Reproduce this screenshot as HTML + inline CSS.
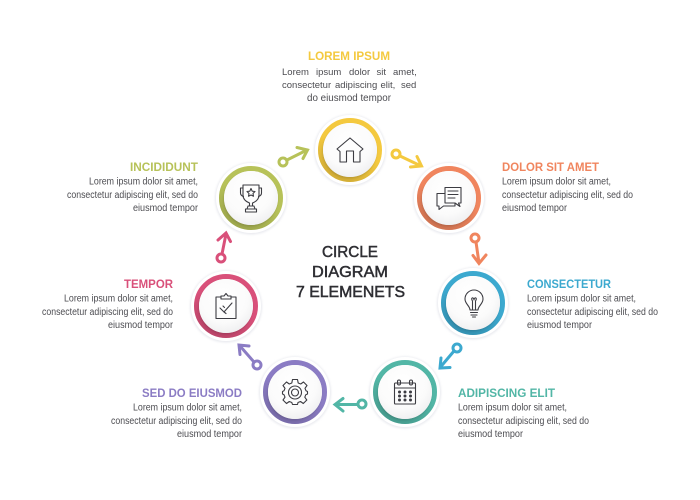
<!DOCTYPE html>
<html><head><meta charset="utf-8"><style>
html,body{margin:0;padding:0;background:#fff}
svg{display:block}
.t{font:bold 11.500px "Liberation Sans",sans-serif}
.b{font:10px "Liberation Sans",sans-serif;fill:#4c4c51}
.w{font-size:9.500px}
.c{font:15.500px "Liberation Sans",sans-serif;fill:#2e2e33;stroke:#2e2e33;stroke-width:.5}
.i{fill:none;stroke:#3c3c42;stroke-width:1.100;stroke-linejoin:round;stroke-linecap:round}
.a{fill:none;stroke-width:3;stroke-linecap:round;stroke-linejoin:miter}
</style></head><body>
<svg width="700" height="500" viewBox="0 0 700 500" xmlns="http://www.w3.org/2000/svg">
<defs>
<radialGradient id="d" cx=".45" cy=".35" r=".75"><stop offset="0" stop-color="#fff"/><stop offset=".6" stop-color="#fbfbfb"/><stop offset="1" stop-color="#ebebed"/></radialGradient>
<linearGradient id="sh" x1=".7" y1=".1" x2=".3" y2=".95"><stop offset=".45" stop-color="#000" stop-opacity="0"/><stop offset="1" stop-color="#000" stop-opacity=".13"/></linearGradient>
<filter id="s" x="-30%" y="-30%" width="160%" height="160%"><feGaussianBlur stdDeviation="1"/></filter>
<g id="n">
<circle r="36" cy=".5" fill="#e9eaef" filter="url(#s)"/>
<circle r="35" fill="#fff"/>
</g>
<g id="in">
<circle r="29.500" fill="none" stroke="url(#sh)" stroke-width="5"/>
<circle r="27" cx="-.5" cy="1.500" fill="#000" opacity=".14" filter="url(#s)"/>
<circle r="27" fill="url(#d)"/>
</g>
</defs>
<rect width="700" height="500" fill="#fff"/>

<!-- nodes -->
<g transform="translate(350,150)"><use href="#n"/><circle r="29.500" fill="none" stroke="#f4c93f" stroke-width="5"/><use href="#in"/>
<path class="i" d="M-13-1L0-12L13-1L10 1.500V12H3.500V1H-3.500V12H-10V1.500Z"/></g>
<g transform="translate(449,198)"><use href="#n"/><circle r="29.500" fill="none" stroke="#f0855e" stroke-width="5"/><use href="#in"/>
<path class="i" d="M-4-10.500H12V5H9.500L11 8.500L6 5H-4Z"/><path class="i" d="M-4-4.500H-12V8H-10V11.500L-5.500 8H6V5"/><path class="i" d="M-1-7H9M-1-3.500H9M-1 0H6"/></g>
<g transform="translate(473,303)"><use href="#n"/><circle r="29.500" fill="none" stroke="#3ca9cf" stroke-width="5"/><use href="#in"/>
<path class="i" d="M-3 7C-3 3-8 1-8-4A9 9 0 0 1 10-4C10 1 5 3 5 7Z"/><path class="i" d="M-2.500 9.500H4.500M-2 12H4M-.5 14H2.500M-.500 7V-2C-3-6 1-6 1-3C1-6 5-6 2.500-2V7"/></g>
<g transform="translate(405,392)"><use href="#n"/><circle r="29.500" fill="none" stroke="#52b6a6" stroke-width="5"/><use href="#in"/>
<rect class="i" x="-10.500" y="-9" width="21" height="21" rx="1"/><path class="i" d="M-10.500-4H10.500"/><rect class="i" x="-7.500" y="-12" width="3" height="5" rx="1.500" fill="#fff"/><rect class="i" x="4.500" y="-12" width="3" height="5" rx="1.500" fill="#fff"/>
<g fill="#3c3c42"><circle cx="-5.500" cy="0" r="1.500"/><circle cx="0" cy="0" r="1.500"/><circle cx="5.500" cy="0" r="1.500"/><circle cx="-5.500" cy="4" r="1.500"/><circle cx="0" cy="4" r="1.500"/><circle cx="5.500" cy="4" r="1.500"/><circle cx="-5.500" cy="8" r="1.500"/><circle cx="0" cy="8" r="1.500"/><circle cx="5.500" cy="8" r="1.500"/></g></g>
<g transform="translate(295,392)"><use href="#n"/><circle r="29.500" fill="none" stroke="#8b7cc4" stroke-width="5"/><use href="#in"/>
<path class="i" d="M-2.500-12H2.500L3.200-8.500L5.700-7.500L8.500-9.500L12-6L10-3.200L11-.7L12.500 0V2.500L10.800 3.200L9.800 5.700L11.800 8.500L8.300 12L5.500 10L3 11L2.500 13H-2.500L-3.200 11L-5.700 10L-8.500 12L-12 8.500L-10 5.700L-11 3.200L-12.500 2.500V0L-11-.7L-10-3.200L-12-6L-8.500-9.500L-5.700-7.500L-3.200-8.500Z" transform="translate(0,-.5)"/><circle class="i" cy=".5" r="6.500"/><circle class="i" cy=".5" r="3.500"/></g>
<g transform="translate(226,306)"><use href="#n"/><circle r="29.500" fill="none" stroke="#d9507a" stroke-width="5"/><use href="#in"/>
<path class="i" d="M-5-9H-10V12.500H10V-9H5"/><path class="i" d="M-5-7V-10H-2L0-12.500L2-10H5V-7Z"/><path class="i" d="M-6 2L-2 6L6-3M-3 0L-1.500 1.500M-2 6L0 7.500" stroke-width="1.200"/></g>
<g transform="translate(251,198)"><use href="#n"/><circle r="29.500" fill="none" stroke="#b7c259" stroke-width="5"/><use href="#in"/>
<path class="i" d="M-8-13H8V-3C8 2 4 4 1.500 5V8H-1.500V5C-4 4-8 2-8-3Z"/><path class="i" d="M-8-10H-10.500V-5C-10.500-3-9-2-7.500-1.500M8-10H10.500V-5C10.500-3 9-2 7.500-1.500"/><path class="i" d="M-3 8H3L4 11H-4ZM-5.500 11H5.500V14H-5.500Z"/><path class="i" d="M0-9.500L1.200-6.800L4-6.500L2-4.500L2.500-1.800L0-3L-2.500-1.800L-2-4.500L-4-6.500L-1.200-6.800Z"/></g>

<!-- arrows -->
<g class="a" stroke="#b7c259"><circle cx="283" cy="162" r="4"/><path d="M287 160L307 150M297 147.500L307.500 150L303 158.500"/></g>
<g class="a" stroke="#f4c93f"><circle cx="396" cy="154" r="4"/><path d="M400 156L421 166M417 156.500L421.500 166L410.500 167"/></g>
<g class="a" stroke="#f0855e"><circle cx="475" cy="238" r="4"/><path d="M476 242L479 263M473 255.500L479 263.500L486 255"/></g>
<g class="a" stroke="#3ca9cf"><circle cx="457" cy="348" r="4"/><path d="M454 351L440.500 367M441 358L440 368L450 367.500"/></g>
<g class="a" stroke="#52b6a6"><circle cx="362" cy="404" r="4"/><path d="M358 404.500H336M343 398.500L335 404.500L343 411"/></g>
<g class="a" stroke="#8b7cc4"><circle cx="257" cy="365" r="4"/><path d="M254 362L240 346M240 354.500L239 345L249 346"/></g>
<g class="a" stroke="#d9507a"><circle cx="221" cy="258" r="4"/><path d="M222 254L226 234M218 240L226 233L230.500 241.500"/></g>

<!-- center -->
<text class="c" x="322" y="257" textLength="56" lengthAdjust="spacingAndGlyphs">CIRCLE</text>
<text class="c" x="312" y="277" textLength="76" lengthAdjust="spacingAndGlyphs">DIAGRAM</text>
<text class="c" x="296" y="297" textLength="109" lengthAdjust="spacingAndGlyphs">7 ELEMENETS</text>

<!-- titles -->
<text class="t" fill="#f4c93f" x="308" y="60" textLength="82" lengthAdjust="spacingAndGlyphs">LOREM IPSUM</text>
<text class="t" fill="#b7c259" x="130" y="171" textLength="68" lengthAdjust="spacingAndGlyphs">INCIDIDUNT</text>
<text class="t" fill="#d9507a" x="124" y="288" textLength="49" lengthAdjust="spacingAndGlyphs">TEMPOR</text>
<text class="t" fill="#8b7cc4" x="142" y="397" textLength="100" lengthAdjust="spacingAndGlyphs">SED DO EIUSMOD</text>
<text class="t" fill="#f0855e" x="502" y="171" textLength="97" lengthAdjust="spacingAndGlyphs">DOLOR SIT AMET</text>
<text class="t" fill="#3ca9cf" x="527" y="288" textLength="84" lengthAdjust="spacingAndGlyphs">CONSECTETUR</text>
<text class="t" fill="#52b6a6" x="458" y="397" textLength="97" lengthAdjust="spacingAndGlyphs">ADIPISCING ELIT</text>

<!-- top body -->
<g class="b">
<text class="w" x="282" y="75">Lorem</text><text class="w" x="316" y="75">ipsum</text><text class="w" x="349" y="75">dolor</text><text class="w" x="376.500" y="75">sit</text><text class="w" x="393" y="75">amet,</text>
<text class="w" x="282" y="88">consectetur</text><text class="w" x="335" y="88">adipiscing</text><text class="w" x="380.500" y="88">elit,</text><text class="w" x="401" y="88">sed</text>
<text x="307" y="101" textLength="84" lengthAdjust="spacingAndGlyphs">do eiusmod tempor</text>

<text x="89" y="184.500" textLength="109" lengthAdjust="spacingAndGlyphs">Lorem ipsum dolor sit amet,</text>
<text x="67" y="197.800" textLength="131" lengthAdjust="spacingAndGlyphs">consectetur adipiscing elit, sed do</text>
<text x="133" y="211" textLength="65" lengthAdjust="spacingAndGlyphs">eiusmod tempor</text>

<text x="64" y="301.500" textLength="109" lengthAdjust="spacingAndGlyphs">Lorem ipsum dolor sit amet,</text>
<text x="42" y="314.800" textLength="131" lengthAdjust="spacingAndGlyphs">consectetur adipiscing elit, sed do</text>
<text x="108" y="328" textLength="65" lengthAdjust="spacingAndGlyphs">eiusmod tempor</text>

<text x="133" y="410.500" textLength="109" lengthAdjust="spacingAndGlyphs">Lorem ipsum dolor sit amet,</text>
<text x="111" y="423.800" textLength="131" lengthAdjust="spacingAndGlyphs">consectetur adipiscing elit, sed do</text>
<text x="177" y="437" textLength="65" lengthAdjust="spacingAndGlyphs">eiusmod tempor</text>

<text x="502" y="184.500" textLength="109" lengthAdjust="spacingAndGlyphs">Lorem ipsum dolor sit amet,</text>
<text x="502" y="197.800" textLength="131" lengthAdjust="spacingAndGlyphs">consectetur adipiscing elit, sed do</text>
<text x="502" y="211" textLength="65" lengthAdjust="spacingAndGlyphs">eiusmod tempor</text>

<text x="527" y="301.500" textLength="109" lengthAdjust="spacingAndGlyphs">Lorem ipsum dolor sit amet,</text>
<text x="527" y="314.800" textLength="131" lengthAdjust="spacingAndGlyphs">consectetur adipiscing elit, sed do</text>
<text x="527" y="328" textLength="65" lengthAdjust="spacingAndGlyphs">eiusmod tempor</text>

<text x="458" y="410.500" textLength="109" lengthAdjust="spacingAndGlyphs">Lorem ipsum dolor sit amet,</text>
<text x="458" y="423.800" textLength="131" lengthAdjust="spacingAndGlyphs">consectetur adipiscing elit, sed do</text>
<text x="458" y="437" textLength="65" lengthAdjust="spacingAndGlyphs">eiusmod tempor</text>
</g>
</svg>
</body></html>
